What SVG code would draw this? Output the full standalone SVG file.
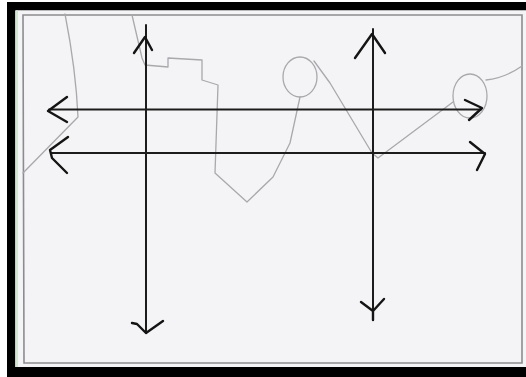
<svg xmlns="http://www.w3.org/2000/svg" width="526" height="377" viewBox="0 0 526 377">
<style>
.ink{fill:none;stroke:#1c1c1c;stroke-width:2;stroke-linecap:round;stroke-linejoin:round}
.head{fill:none;stroke:#141414;stroke-width:2.4;stroke-linecap:round;stroke-linejoin:round}
.pencil{fill:none;stroke:#a9a9ad;stroke-width:1.3;stroke-linejoin:round;stroke-linecap:round}
.frame{fill:none;stroke:#8c8c90;stroke-width:1.6}
</style>
<rect x="0" y="0" width="526" height="377" fill="#ffffff"/>
<g id="scan-border">
<rect x="7" y="2" width="519" height="8.5" fill="#000"/>
<rect x="7" y="2" width="8.5" height="375" fill="#000"/>
<rect x="7" y="367" width="519" height="10" fill="#000"/>
<rect x="15.5" y="10.5" width="510.5" height="356.5" fill="#f4f4f6"/>
<rect x="15.5" y="10.5" width="2.5" height="356.5" fill="#cfe8cf"/>
</g>
<g id="paper-frame">
<path class="frame" d="M23,15 H522 V363 H24 Z"/>
</g>
<g id="pencil-curve">
<path class="pencil" d="M65,14 Q76,70 78,117 L23,173"/>
<path class="pencil" d="M132,15 L142,58 L145,65 L168,67 L168,58 L202,60 L202,80 L218,85 L215,173 L247,202 L273,177 L290,143 L300,97"/>
<ellipse class="pencil" cx="300" cy="77" rx="17" ry="20"/>
<path class="pencil" d="M314,61 L330,83 L372,153 L378,158 L453,102"/>
<ellipse class="pencil" cx="470" cy="96" rx="17" ry="22"/>
<path class="pencil" d="M486,80 Q505,78 522,66"/>
</g>
<g id="connectors">
<g id="axis-v1">
<path class="ink" d="M146,25 V333"/>
<path class="head" d="M134,53 L145,37 L152,50"/>
<path class="head" d="M132,323 L137,324 L146,333 L163,321"/>
</g>
<g id="axis-v2">
<path class="ink" d="M373,29 V320"/>
<path class="head" d="M355,58 L372,34 L385,53"/>
<path class="head" d="M361,302 L373,311 L384,299 M373,311 V320"/>
</g>
<g id="axis-h1">
<path class="ink" d="M49,109.5 H481"/>
<path class="head" d="M67,97 L48,111 L67,122"/>
<path class="head" d="M465,100 L482,108 L469,120"/>
</g>
<g id="axis-h2">
<path class="ink" d="M51,153 H485"/>
<path class="head" d="M68,137 L50,150 L52,158 L67,173"/>
<path class="head" d="M470,142 L485,154 L477,170"/>
</g>
</g>
</svg>
